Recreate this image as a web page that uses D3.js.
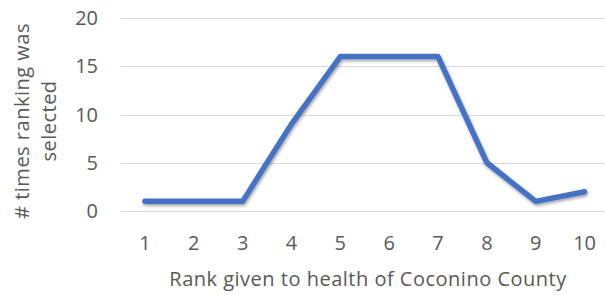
<!DOCTYPE html>
<html lang="en">
	<head>
		<meta charset="utf-8">
		<title>line</title>
		<script type="text/javascript" src="https://cdn.jsdelivr.net/npm/d3@7"></script>
		<style>
			body{margin:0;background:white;}
			text{font-family:"Open Sans",sans-serif;fill:#595959;}
			.title{letter-spacing:0.5px;}
		</style>
	</head>
	<body>
		<div id="chart"></div>
		<script type="text/javascript">
			var ranks = ["1","2","3","4","5","6","7","8","9","10"]
			var counts = [1,1,1,9,16,16,16,5,1,2]
			var yTicks = [0,5,10,15,20]

			var w = 605
			var h = 295
			var plotLeft = 120.5
			var plotRight = 609
			var plotTop = 18
			var plotBottom = 211

			var xScale = d3.scaleBand()
			.domain(ranks)
			.range([plotLeft,plotRight])

			var yScale = d3.scaleLinear()
			.domain([0,20])
			.range([plotBottom,plotTop])

			var svg = d3.select("#chart").append("svg")
			.attr("width",w)
			.attr("height",h)

			var defs = svg.append("defs")
			var f = defs.append("filter").attr("id","shadow")
			.attr("x","-10%").attr("y","-10%").attr("width","120%").attr("height","130%")
			f.append("feDropShadow")
			.attr("dx",1).attr("dy",2).attr("stdDeviation",1.6)
			.attr("flood-color","#000").attr("flood-opacity",0.35)

			// gridlines
			svg.selectAll("line.grid")
			.data(yTicks)
			.enter()
			.append("line")
			.attr("class","grid")
			.attr("x1",plotLeft)
			.attr("x2",605)
			.attr("y1",function(d){return Math.round(yScale(d))+0.5})
			.attr("y2",function(d){return Math.round(yScale(d))+0.5})
			.attr("stroke","#d9d9d9")
			.attr("stroke-width",1)

			// y tick labels
			svg.selectAll("text.ylab")
			.data(yTicks)
			.enter()
			.append("text")
			.attr("class","ylab")
			.attr("x",98)
			.attr("y",function(d){return yScale(d)})
			.attr("dy","0.35em")
			.attr("text-anchor","end")
			.style("font-size","20px")
			.text(function(d){return d})

			// x tick labels
			svg.selectAll("text.xlab")
			.data(ranks)
			.enter()
			.append("text")
			.attr("class","xlab")
			.attr("x",function(d){return xScale(d)+xScale.bandwidth()/2})
			.attr("y",243)
			.attr("dy","0.35em")
			.attr("text-anchor","middle")
			.style("font-size","20px")
			.text(function(d){return d})

			var line = d3.line()
			.x(function(d,i){return xScale(ranks[i])+xScale.bandwidth()/2})
			.y(function(d){return yScale(d)})

			svg.append("path")
			.datum(counts)
			.attr("d",line)
			.attr("fill","none")
			.attr("stroke","#4472C4")
			.attr("stroke-width",5.5)
			.attr("stroke-linejoin","round")
			.attr("stroke-linecap","round")
			.attr("filter","url(#shadow)")

			svg.append("text")
			.attr("class","title")
			.attr("x",368)
			.attr("y",279)
			.attr("dy","0.35em")
			.attr("text-anchor","middle")
			.style("font-size","20px")
			.text("Rank given to health of Coconino County")

			var yt = svg.append("text")
			.attr("class","title")
			.attr("transform","translate(22,121) rotate(-90)")
			.attr("text-anchor","middle")
			.style("font-size","20px")
			yt.append("tspan").attr("x",0).attr("dy","0.35em").text("# times ranking was")
			yt.append("tspan").attr("x",0).attr("dy","1.35em").text("selected")
		</script>
	</body>
</html>
